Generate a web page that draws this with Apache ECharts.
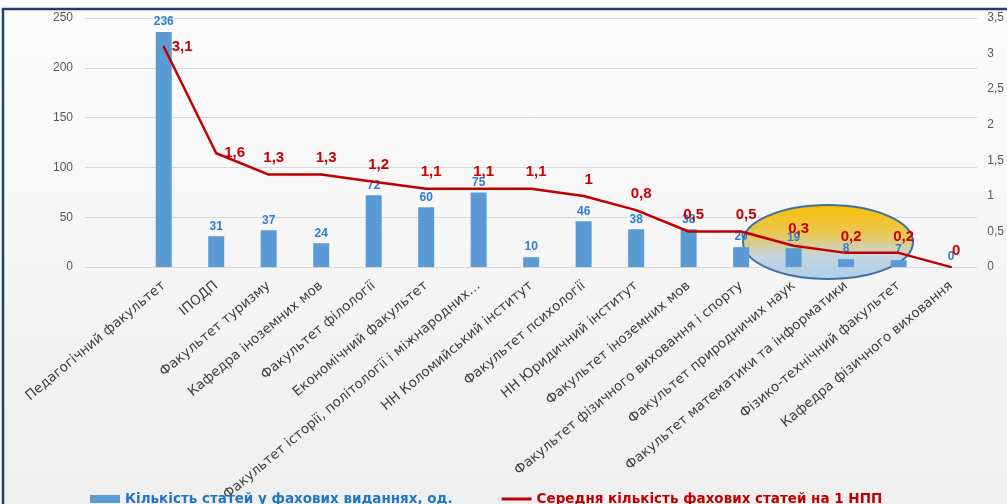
<!DOCTYPE html>
<html><head><meta charset="utf-8">
<script src="https://cdn.jsdelivr.net/npm/echarts@6/dist/echarts.min.js"></script>
<style>html,body{margin:0;padding:0;background:#fff}#c{width:1007px;height:504px}</style>
</head><body><div id="c"></div>
<script>
const categories = ['', 'Педагогічний факультет', 'ІПОДП', 'Факультет туризму', 'Кафедра іноземних мов',
  'Факультет філології', 'Економічний факультет', 'Факультет історії, політології і міжнародних…',
  'НН Коломийський інститут', 'Факультет психології', 'НН Юридичний інститут', 'Факультет іноземних мов',
  'Факультет фізичного виховання і спорту', 'Факультет природничих наук', 'Факультет математики та інформатики',
  'Фізико-технічний факультет', 'Кафедра фізичного виховання'];
const articles = [null, 236, 31, 37, 24, 72, 60, 75, 10, 46, 38, 38, 20, 19, 8, 7, 0];
const avgPerNpp = [null, 3.1, 1.6, 1.3, 1.3, 1.2, 1.1, 1.1, 1.1, 1, 0.8, 0.5, 0.5, 0.3, 0.2, 0.2, 0];
const leftAxis = [0, 250, 50];   // min, max, step
const rightAxis = [0, 3.5, 0.5];
const seriesNames = ['Кількість статей у фахових виданнях, од.', 'Середня кількість фахових статей на 1 НПП'];

const FONT = '"Liberation Sans", Arial, sans-serif';
const WIDE = '"DejaVu Sans", "Liberation Sans", sans-serif';
const comma = v => String(v).replace('.', ',');
const chart = echarts.init(document.getElementById('c'), null, {renderer: 'canvas'});

const lineData = avgPerNpp.map((v, i) => (i === 1 || i === 2) ? {value: v, label: {position: 'right', offset: [2, 0]}} : v);

chart.setOption({
  animation: false,
  backgroundColor: '#ffffff',
  textStyle: {fontFamily: FONT},
  graphic: [
    {type: 'rect', z: -10, silent: true, shape: {x: 3, y: 9, width: 1100, height: 600},
      style: {fill: new echarts.graphic.LinearGradient(0, 0, 0, 1, [
        {offset: 0, color: '#fcfcfc'}, {offset: 1, color: '#ececec'}]), stroke: '#1f3f73', lineWidth: 2.5}},
    {type: 'ellipse', z: 1, silent: true, shape: {cx: 828, cy: 242, rx: 85, ry: 37},
      style: {fill: new echarts.graphic.LinearGradient(0, 0, 0, 1, [
        {offset: 0, color: '#f9c000'}, {offset: 0.4, color: '#e8c856'}, {offset: 0.68, color: '#c4d5df'}, {offset: 1, color: '#aecdee'}]),
        stroke: '#41719c', lineWidth: 2}}
  ],
  legend: {
    left: 85, top: 487, itemGap: 49, itemWidth: 30, itemHeight: 8,
    textStyle: {fontFamily: WIDE, fontSize: 13.5, fontWeight: 'bold'},
    data: [
      {name: seriesNames[0], icon: 'rect', textStyle: {color: '#1f77c6'}},
      {name: seriesNames[1], icon: 'path://M0,0 L30,0 L30,3 L0,3 Z', textStyle: {color: '#c00000'}}
    ]
  },
  grid: {left: 85, right: 29.5, top: 18, bottom: 236, containLabel: false},
  xAxis: {
    type: 'category', data: categories,
    axisLine: {show: false}, axisTick: {show: false},
    axisLabel: {rotate: 40, interval: 0, margin: 17, color: '#404040', fontSize: 13.5, fontFamily: WIDE}
  },
  yAxis: [
    {type: 'value', min: leftAxis[0], max: leftAxis[1], interval: leftAxis[2],
      axisLine: {show: false}, axisTick: {show: false},
      axisLabel: {color: '#595959', fontSize: 12, margin: 12, fontFamily: FONT},
      splitLine: {lineStyle: {color: '#d9d9d9', width: 1}}},
    {type: 'value', min: rightAxis[0], max: rightAxis[1], interval: rightAxis[2],
      axisLine: {show: false}, axisTick: {show: false},
      axisLabel: {color: '#595959', fontSize: 12, margin: 10, fontFamily: FONT, formatter: v => comma(v)},
      splitLine: {show: false}}
  ],
  series: [
    {name: seriesNames[0], type: 'bar', data: articles, barWidth: 16, z: 3,
      itemStyle: {color: '#5b9bd5'},
      label: {show: true, position: 'top', distance: 4, color: '#2c7fd2', fontWeight: 'bold', fontSize: 12, fontFamily: FONT,
        formatter: p => p.value == null ? '' : String(p.value)}},
    {name: seriesNames[1], type: 'line', yAxisIndex: 1, data: lineData, z: 4,
      symbol: 'circle', symbolSize: 2, showSymbol: true,
      lineStyle: {color: '#c00000', width: 2.5}, itemStyle: {color: '#c00000'},
      label: {show: true, position: 'top', distance: 5, offset: [5, -3], color: '#cc0000', fontWeight: 'bold', fontSize: 15, fontFamily: FONT,
        formatter: p => p.value == null ? '' : comma(p.value)}}
  ]
});
</script></body></html>
